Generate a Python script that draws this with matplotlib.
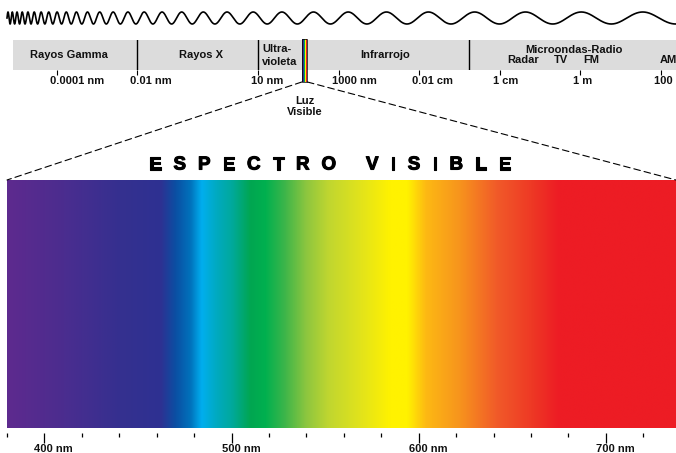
import numpy as np
import matplotlib
matplotlib.use('Agg')
import matplotlib.pyplot as plt
from matplotlib.colors import LinearSegmentedColormap
from matplotlib.patches import ConnectionPatch, Rectangle
from matplotlib.ticker import NullLocator
from matplotlib.transforms import offset_copy
import matplotlib.patheffects as pe

plt.rcParams['font.family'] = ['Liberation Sans', 'DejaVu Sans']

# ---------------- Electromagnetic spectrum band (wavelength in metres) ----------------
band_ticks = [1e-13, 1e-11, 1e-8, 1e-6, 1e-4, 1e-2, 1e0, 1e2]
band_tick_labels = ['0.0001 nm', '0.01 nm', '10 nm', '1000 nm', '0.01 cm', '1 cm', '1 m', '100 m']
band_separators = [1e-11, 1e-8, 1.66e-3]
band_range = (10 ** -14.09, 10 ** 2.372)
region_names = ['Rayos Gamma', 'Rayos X', 'Infrarrojo']
region_pos = [10 ** -12.70, 10 ** -9.42, 10 ** -4.855]
uv_lines = ['Ultra-', 'violeta']
uv_pos = 10 ** -7.91
radio_name = 'Microondas-Radio'
radio_pos = 10 ** -0.162
sub_names = ['Radar', 'TV', 'FM', 'AM']
sub_pos = [10 ** -1.428, 10 ** -0.484, 10 ** 0.261, 10 ** 2.17]
visible_band = (10 ** -6.92, 10 ** -6.78)
visible_stripes = ['#3a1f6e', '#2e3192', '#00a651', '#fff200', '#ed1c24']
visible_label = ['Luz', 'Visible']
title_words = ['ESPECTRO', 'VISIBLE']

# ---------------- Visible spectrum (nm) ----------------
spec_range = (380, 737.5)
spec_major = [400, 500, 600, 700]
spec_major_labels = ['400 nm', '500 nm', '600 nm', '700 nm']
spec_minor = list(range(380, 721, 20))
color_nm = [380, 410, 440, 462, 470, 478, 484, 492, 500, 510, 518, 528, 540, 552,
            570, 585, 594, 604, 622, 642, 660, 675, 737.5]
color_hex = ['#5e2a8e', '#4b2d8f', '#35308f', '#2e3192', '#0b4fa3', '#0072bc', '#00aeef',
             '#00aac0', '#00a99d', '#00a651', '#00b04f', '#3ab54a', '#8dc63f', '#c0d630',
             '#e4e41a', '#fff200', '#fff200', '#fdb913', '#f7941d', '#f15a29', '#ee3a25',
             '#ed1c24', '#ed1c24']

# ---------------- Decorative wave (chirp: period grows left to right) ----------------
wave_start_period = 4.0
wave_period_growth = 0.095

W, H = 676, 453
fig = plt.figure(figsize=(W / 100, H / 100), dpi=100)


def px_axes(x0, y0, x1, y1):
    return fig.add_axes([x0 / W, 1 - y1 / H, (x1 - x0) / W, (y1 - y0) / H])


# background axes in pixel units
bg = fig.add_axes([0, 0, 1, 1])
bg.set_xlim(0, W)
bg.set_ylim(H, 0)
bg.axis('off')
xw = np.linspace(7, 676, 6000)
per = wave_start_period + wave_period_growth * (xw - 7)
phase = 2 * np.pi / wave_period_growth * np.log(per / wave_start_period)
bg.plot(xw, 18 - 6 * np.sin(phase), color='black', lw=1.2)

# ---------------- band axes ----------------
ax_b = px_axes(13, 40, 676, 70)
ax_b.set_xscale('log')
ax_b.set_xlim(*band_range)
ax_b.set_ylim(0, 1)
ax_b.set_facecolor('#dcdcdc')
for s in ax_b.spines.values():
    s.set_visible(False)
ax_b.set_yticks([])
ax_b.set_xticks(band_ticks)
ax_b.xaxis.set_minor_locator(NullLocator())
ax_b.tick_params(axis='x', length=3.6, width=0.8, direction='out', color='black',
                 labelbottom=False)
for s in band_separators:
    ax_b.axvline(s, color='black', lw=1)

xt = ax_b.get_xaxis_transform()
lab_kw = dict(fontsize=8, fontweight='bold', color='#111111')
for name, p in zip(region_names, region_pos):
    ax_b.text(p, 0.40, name, transform=xt, ha='center', va='baseline', **lab_kw)
ax_b.text(uv_pos, 0.60, uv_lines[0], transform=xt, ha='left', va='baseline', **lab_kw)
ax_b.text(uv_pos, 0.17, uv_lines[1], transform=xt, ha='left', va='baseline', **lab_kw)
ax_b.text(radio_pos, 0.567, radio_name, transform=xt, ha='center', va='baseline', **lab_kw)
for name, p in zip(sub_names, sub_pos):
    ax_b.text(p, 0.233, name, transform=xt, ha='center', va='baseline', **lab_kw)

tick_tr = offset_copy(xt, fig=fig, x=-7, y=0, units='dots')
for v, lab in zip(band_ticks, band_tick_labels):
    ax_b.text(v, -0.45, lab, transform=tick_tr, ha='left', va='baseline', clip_on=False, **lab_kw)

# visible light stripes
edges = np.logspace(np.log10(visible_band[0]), np.log10(visible_band[1]), len(visible_stripes) + 1)
for c, e0, e1 in zip(visible_stripes, edges[:-1], edges[1:]):
    ax_b.fill_between([e0, e1], -0.4, 1.033, color=c, lw=0, clip_on=False, zorder=3)
ax_b.add_patch(Rectangle((visible_band[0], -0.4), visible_band[1] - visible_band[0], 1.433,
                         fill=False, ec='black', lw=0.5, clip_on=False, zorder=4))
vis_mid = np.sqrt(visible_band[0] * visible_band[1])
ax_b.text(vis_mid, -1.13, visible_label[0], transform=xt, ha='center', va='baseline',
          clip_on=False, **lab_kw)
ax_b.text(vis_mid, -1.5, visible_label[1], transform=xt, ha='center', va='baseline',
          clip_on=False, **lab_kw)

# ---------------- visible spectrum axes ----------------
ax_s = px_axes(7, 180, 676, 428)
cmap = LinearSegmentedColormap.from_list(
    'vis', [((n - spec_range[0]) / (spec_range[1] - spec_range[0]), c)
            for n, c in zip(color_nm, color_hex)], N=1024)
grad = np.linspace(spec_range[0], spec_range[1], 1400)[None, :]
ax_s.imshow(grad, cmap=cmap, vmin=spec_range[0], vmax=spec_range[1], aspect='auto',
            extent=[spec_range[0], spec_range[1], 0, 1], interpolation='bilinear')
ax_s.set_xlim(*spec_range)
ax_s.set_ylim(0, 1)
for k, s in ax_s.spines.items():
    s.set_visible(False)
ax_s.spines['bottom'].set_position(('outward', 3.6))
ax_s.set_yticks([])
ax_s.set_xticks(spec_major)
ax_s.set_xticks(spec_minor, minor=True)
ax_s.tick_params(axis='x', which='major', length=7.2, width=0.9, color='black', labelbottom=False)
ax_s.tick_params(axis='x', which='minor', length=2.9, width=0.9, color='black')
sx = offset_copy(ax_s.get_xaxis_transform(), fig=fig, x=-10, y=0, units='dots')
for v, lab in zip(spec_major, spec_major_labels):
    ax_s.text(v, -0.0968, lab, transform=sx, ha='left', va='baseline', clip_on=False, **lab_kw)

# dashed connectors from the visible stripe to the enlarged spectrum
for xa, xb in [(visible_band[0], spec_range[0]), (visible_band[1], spec_range[1])]:
    cp = ConnectionPatch(xyA=(xa, -0.4), coordsA=xt, xyB=(xb, 1.0),
                         coordsB=ax_s.get_xaxis_transform(), color='black', lw=0.8,
                         linestyle=(0, (6, 3.5)))
    fig.add_artist(cp)

# ---------------- title with wide letter spacing ----------------
renderer = fig.canvas.get_renderer()
title_kw = dict(fontsize=13.5, fontweight='bold', color='black', va='baseline', ha='left')
letter_gap, word_gap = 12.0, 30.0
items = []
for wi, word in enumerate(title_words):
    for li, ch in enumerate(word):
        t = fig.text(0, 0, ch, **title_kw)
        t.set_path_effects([pe.withStroke(linewidth=0.8, foreground='black')])
        w = t.get_window_extent(renderer).width
        gap = letter_gap if li < len(word) - 1 else (word_gap if wi < len(title_words) - 1 else 0)
        items.append((t, w, gap))
total = sum(w + g for _, w, g in items)
x = 330 - total / 2
for t, w, g in items:
    t.set_position((x / W, 1 - 169.5 / H))
    x += w + g

fig.savefig('out.png', dpi=100)
